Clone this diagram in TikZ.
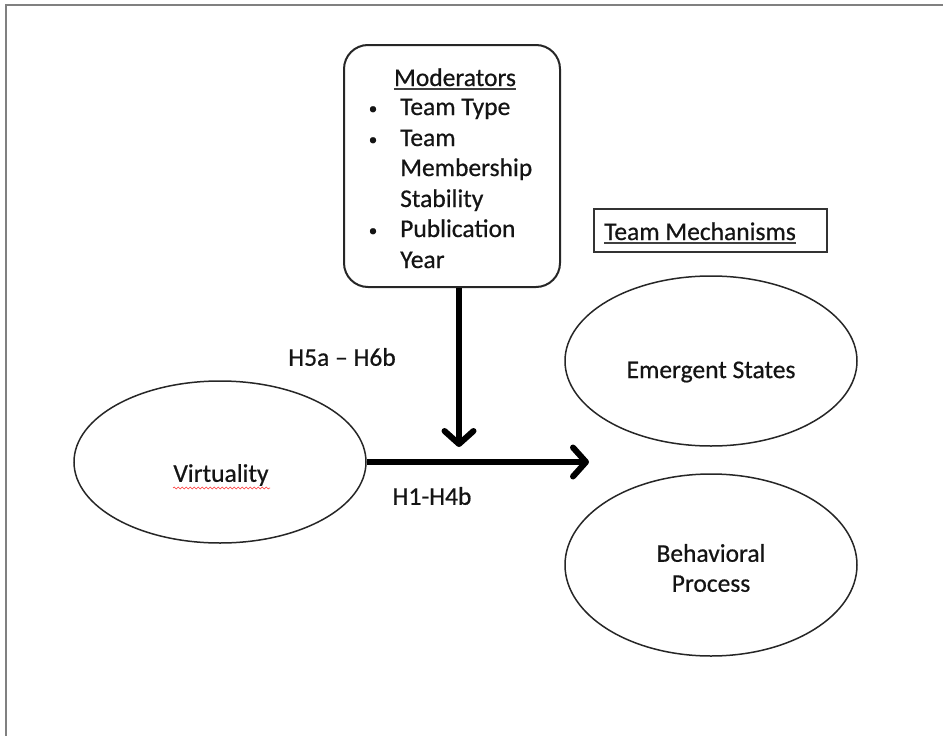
\documentclass[tikz,border=0pt]{standalone}
\usepackage{fontspec}
\setmainfont{Carlito}[FakeBold=0.6]
\usetikzlibrary{arrows.meta,shapes.geometric,decorations.pathmorphing,calc}
\begin{document}
\begin{tikzpicture}[x=1pt,y=-1pt,
  txt/.style={font=\fontsize{25.5}{30}\selectfont, inner sep=0pt, text=black!92},
  bul/.style={font=\fontsize{17}{20}\selectfont, inner sep=0pt, text=black!92, anchor=base},
  item/.style={txt, anchor=base west},
  uline/.style={black!75, line width=1.2pt},
  oval/.style={ellipse, draw=black!85, line width=1.5pt, inner sep=0pt},
  bigarrow/.style={line width=6pt, -{Straight Barb[length=13pt,width=29pt,round]}},
  modbox/.style={draw=black!85, line width=2pt, rounded corners=24pt, minimum width=216pt, minimum height=242pt, inner sep=0pt},
  tmbox/.style={draw=black!80, line width=2pt, minimum width=233pt, minimum height=43pt, inner sep=0pt},
]
\useasboundingbox (0,0) rectangle (943,736);
\draw[black!50, line width=2pt] (6,736) -- (6,5) -- (943,5);

% moderators box
\node[modbox] (mod) at (452,166) {};
\node[txt, anchor=base] (m0) at (455,86) {Moderators};
\draw[uline] ($(m0.base west)+(0,3)$) -- ($(m0.base east)+(0,3)$);
\node[bul] (b1) at (373,114) {\textbullet};
\node[item] (m1) at (400,115) {Team Type};
\node[bul] (b2) at (373,145) {\textbullet};
\node[item] (m2) at (400,146) {Team};
\node[item] (m3) at (400,176) {Membership};
\node[item] (m4) at (400,207) {Stability};
\node[bul] (b3) at (373,236) {\textbullet};
\node[item] (m5) at (400,237) {Publication};
\node[item] (m6) at (400,268) {Year};

% team mechanisms
\node[tmbox] (tm) at (710.5,230.5) {};
\node[item] (tmt) at (604,240) {Team Mechanisms};
\draw[uline] ($(tmt.base west)+(0,3)$) -- ($(tmt.base east)+(0,3)$);

% ellipses
\node[oval, minimum width=292pt, minimum height=162pt] (virt) at (220,462) {};
\node[txt] (vt) at (221,475) {Virtuality};
\draw[red!80, line width=0.6pt, decorate, decoration={snake, segment length=4pt, amplitude=0.9pt}] (173,488) -- (270,488);

\node[oval, minimum width=292pt, minimum height=170pt] (es) at (711,361) {};
\node[txt] (est) at (711,372) {Emergent States};

\node[oval, minimum width=292pt, minimum height=182pt] (bp) at (711,565) {};
\node[txt, align=center] (bpt) at (711,568) {Behavioral\\Process};

% arrows
\coordinate (vtip) at (459,447);
\coordinate (htip) at (589,462);
\draw[bigarrow] (mod.south -| vtip) -- (vtip);
\draw[bigarrow] (virt.east) -- (virt.east -| htip);

% labels
\node[txt] (l1) at (342,357) {H5a – H6b};
\node[txt] (l2) at (432,496) {H1-H4b};
\end{tikzpicture}
\end{document}
